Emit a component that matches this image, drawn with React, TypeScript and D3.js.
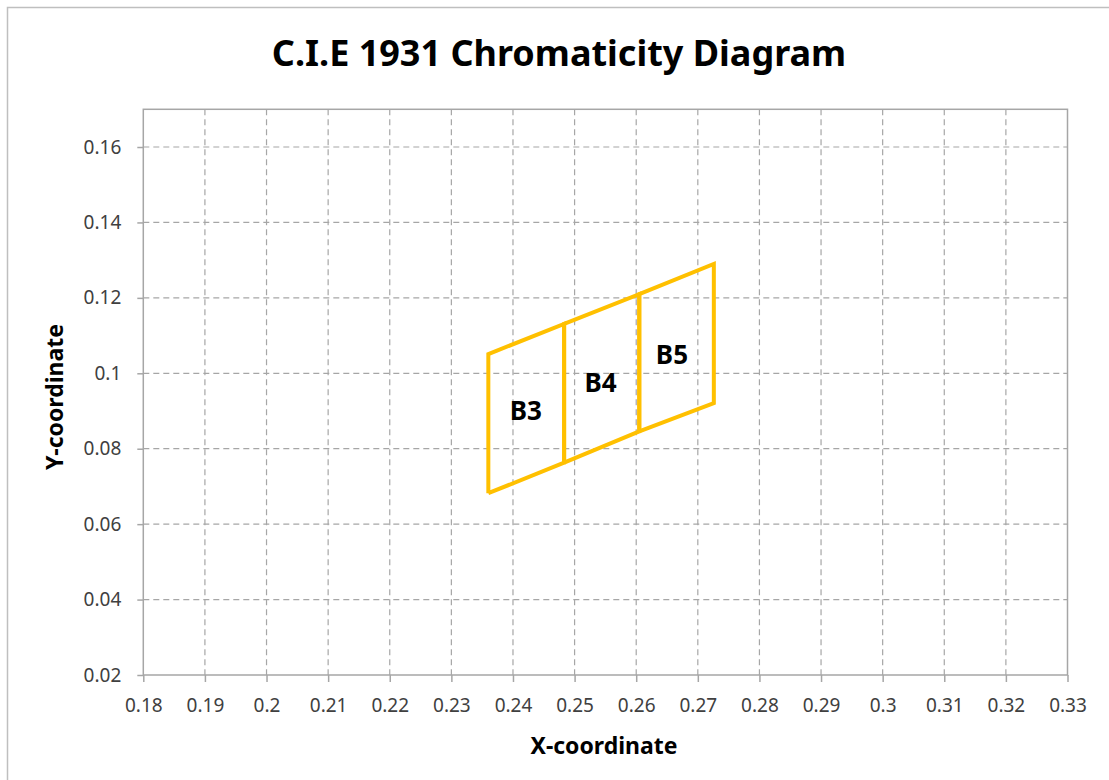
import React, { useEffect, useRef } from "react";
import * as d3 from "d3";

// bin boundaries (x) and the top / bottom y of each boundary line
const edgeX = [0.236, 0.2483, 0.2605, 0.2726];
const edgeTopY = [0.1051, 0.1131, 0.121, 0.129];
const edgeBottomY = [0.0682, 0.0763, 0.0846, 0.0921];

const binNames = ["B3", "B4", "B5"];
const labelX = [0.2421, 0.2542, 0.2658];
const labelY = [0.0903, 0.0978, 0.1051];

const xTicks = [0.18, 0.19, 0.2, 0.21, 0.22, 0.23, 0.24, 0.25, 0.26, 0.27, 0.28, 0.29, 0.3, 0.31, 0.32, 0.33];
const yTicks = [0.02, 0.04, 0.06, 0.08, 0.1, 0.12, 0.14, 0.16];

const W = 1109;
const H = 780;
const FONT = "'Noto Sans', 'Open Sans', sans-serif";

const App = () => {
  const svgRef = useRef<SVGSVGElement>(null);

  useEffect(() => {
    const svg = d3.select(svgRef.current);
    svg.selectAll("*").remove();

    const left = 143.3;
    const right = 1067.5;
    const top = 109.3;
    const bottom = 675;

    const x = d3.scaleLinear().domain([0.18, 0.33]).range([left, right]);
    const y = d3.scaleLinear().domain([0.02, 0.17]).range([bottom, top]);

    // chart frame
    svg
      .append("rect")
      .attr("x", 7.5)
      .attr("y", 7.5)
      .attr("width", W + 20)
      .attr("height", H + 20)
      .attr("fill", "white")
      .attr("stroke", "#bfbfbf")
      .attr("stroke-width", 1.5);

    // title
    svg
      .append("text")
      .attr("x", 559)
      .attr("y", 66)
      .attr("text-anchor", "middle")
      .style("font-family", FONT)
      .style("font-weight", "bold")
      .style("font-size", "36px")
      .style("fill", "#000")
      .text("C.I.E 1931 Chromaticity Diagram");

    // grid
    const grid = svg.append("g");
    grid
      .selectAll("line.v")
      .data(xTicks.slice(1, -1))
      .enter()
      .append("line")
      .attr("x1", (d) => x(d))
      .attr("x2", (d) => x(d))
      .attr("y1", top)
      .attr("y2", bottom)
      .attr("stroke", "#a6a6a6")
      .attr("stroke-width", 1.2)
      .attr("stroke-dasharray", "6,4");
    grid
      .selectAll("line.h")
      .data(yTicks.slice(1))
      .enter()
      .append("line")
      .attr("x1", left)
      .attr("x2", right)
      .attr("y1", (d) => y(d))
      .attr("y2", (d) => y(d))
      .attr("stroke", "#a6a6a6")
      .attr("stroke-width", 1.2)
      .attr("stroke-dasharray", "6,4");

    // plot area border
    svg
      .append("rect")
      .attr("x", left)
      .attr("y", top)
      .attr("width", right - left)
      .attr("height", bottom - top)
      .attr("fill", "none")
      .attr("stroke", "#a6a6a6")
      .attr("stroke-width", 1.5);

    // x axis
    const xAxis = svg
      .append("g")
      .attr("transform", `translate(0,${bottom})`)
      .call(
        d3
          .axisBottom(x)
          .tickValues(xTicks)
          .tickSize(7)
          .tickPadding(17)
          .tickFormat((d) => String(+(+d).toFixed(2)))
      );
    xAxis.select(".domain").remove();
    xAxis.selectAll("line").attr("stroke", "#a6a6a6").attr("stroke-width", 1.5);
    xAxis
      .selectAll("text")
      .style("fill", "#404040")
      .style("font-size", "19px")
      .style("font-family", FONT);

    // y axis
    const yAxis = svg
      .append("g")
      .attr("transform", `translate(${left},0)`)
      .call(
        d3
          .axisLeft(y)
          .tickValues(yTicks)
          .tickSize(6)
          .tickPadding(16)
          .tickFormat((d) => String(+(+d).toFixed(2)))
      );
    yAxis.select(".domain").remove();
    yAxis.selectAll("line").attr("stroke", "#a6a6a6").attr("stroke-width", 1.5);
    yAxis
      .selectAll("text")
      .style("fill", "#404040")
      .style("font-size", "19px")
      .style("font-family", FONT);

    // axis titles
    svg
      .append("text")
      .attr("x", 604)
      .attr("y", 754)
      .attr("text-anchor", "middle")
      .style("font-family", FONT)
      .style("font-weight", "bold")
      .style("font-size", "23px")
      .text("X-coordinate");
    svg
      .append("text")
      .attr("transform", "translate(63,397) rotate(-90)")
      .attr("text-anchor", "middle")
      .style("font-family", FONT)
      .style("font-weight", "bold")
      .style("font-size", "23px")
      .text("Y-coordinate");

    // bins
    const line = d3
      .line<[number, number]>()
      .x((d) => x(d[0]))
      .y((d) => y(d[1]));

    binNames.forEach((name, i) => {
      const pts: [number, number][] = [
        [edgeX[i], edgeBottomY[i]],
        [edgeX[i], edgeTopY[i]],
        [edgeX[i + 1], edgeTopY[i + 1]],
        [edgeX[i + 1], edgeBottomY[i + 1]],
        [edgeX[i], edgeBottomY[i]],
      ];
      svg
        .append("path")
        .datum(pts)
        .attr("fill", "none")
        .attr("stroke", "#FFC000")
        .attr("stroke-width", 4)
        .attr("stroke-linejoin", "miter")
        .attr("d", line);

      svg
        .append("text")
        .attr("x", x(labelX[i]))
        .attr("y", y(labelY[i]))
        .attr("text-anchor", "middle")
        .attr("dominant-baseline", "central")
        .style("font-family", FONT)
        .style("font-weight", "bold")
        .style("font-size", "26px")
        .style("fill", "#000")
        .text(name);
    });
  }, []);

  return (
    <svg
      ref={svgRef}
      width={W}
      height={H}
      style={{ position: "absolute", left: 0, top: 0, display: "block", background: "white" }}
    ></svg>
  );
};

export default App;
